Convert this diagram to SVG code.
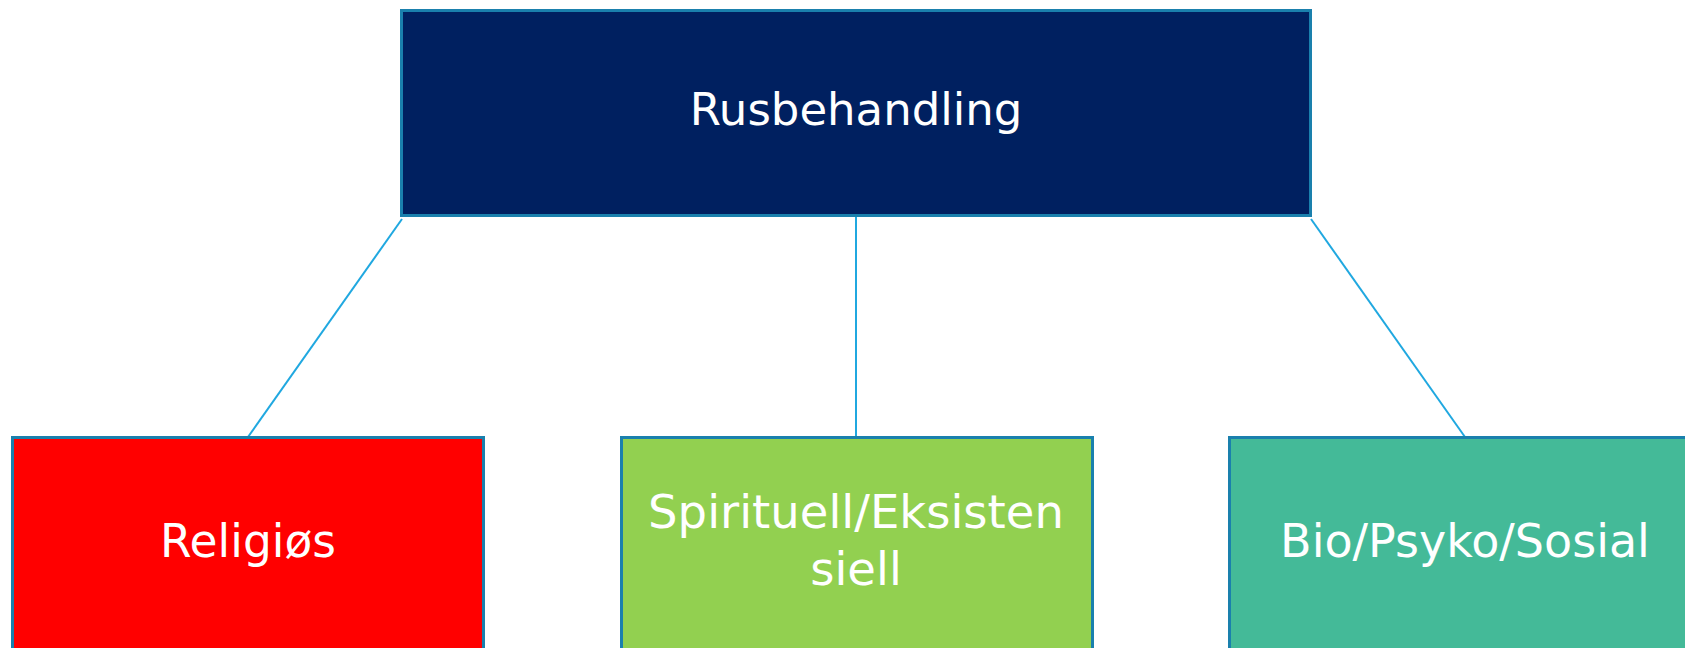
<svg xmlns="http://www.w3.org/2000/svg" width="1685" height="648" viewBox="0 0 1685 648">
<style>
.box{stroke:#1a80ad;stroke-width:3}
.lbl{font-family:"DejaVu Sans",sans-serif;fill:#ffffff;text-anchor:middle}
.conn{stroke:#20a8e0;stroke-width:2;fill:none}
</style>
<rect width="1685" height="648" fill="#ffffff"/>
<g id="connectors">
<line class="conn" x1="402" y1="219" x2="248" y2="437"/>
<line class="conn" x1="856" y1="216" x2="856" y2="437"/>
<line class="conn" x1="1311" y1="219" x2="1465" y2="437"/>
</g>
<g id="node-rusbehandling">
<rect class="box" x="401.5" y="10.5" width="909" height="205" fill="#002060"/>
<text class="lbl" x="856" y="125" font-size="45">Rusbehandling</text>
</g>
<g id="node-religios">
<rect class="box" x="12.5" y="437.5" width="471" height="230" fill="#ff0000"/>
<text class="lbl" x="248" y="557" font-size="45.5">Religiøs</text>
</g>
<g id="node-spirituell">
<rect class="box" x="621.5" y="437.5" width="471" height="230" fill="#92d050"/>
<text class="lbl" x="856" y="528" font-size="46.5">Spirituell/Eksisten</text>
<text class="lbl" x="856" y="585" font-size="46.5">siell</text>
</g>
<g id="node-bio">
<rect class="box" x="1229.5" y="437.5" width="471" height="230" fill="#44ba98"/>
<text class="lbl" x="1465" y="557" font-size="46">Bio/Psyko/Sosial</text>
</g>
</svg>
